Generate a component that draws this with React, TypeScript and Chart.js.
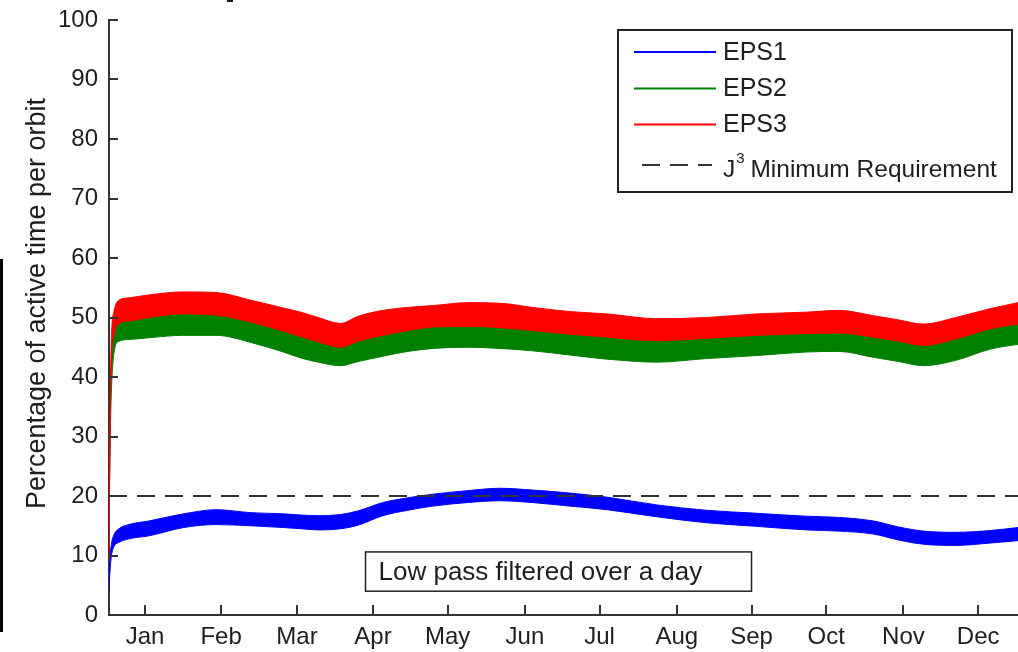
import React, { useEffect, useRef } from "react";
import { Chart, registerables } from "chart.js";

Chart.register(...registerables);

// ---- data (day of year) ----
const days = [0, 0.5, 1, 2, 4, 8, 16, 30, 43, 57, 70, 77, 84, 93, 100, 110, 120, 130, 144, 157, 170, 185, 200, 220, 240, 260, 280, 293, 307, 317, 327, 340, 354, 365];

const eps1Upper = [5, 10, 12, 13.5, 14.5, 15.2, 15.8, 17, 17.7, 17.2, 17, 16.8, 16.7, 16.9, 17.5, 18.9, 19.7, 20.3, 20.9, 21.3, 21, 20.5, 19.8, 18.5, 17.6, 17.1, 16.6, 16.4, 15.8, 14.8, 14.1, 13.9, 14.2, 14.7];
const eps1Lower = [4, 8, 10, 11.5, 12.2, 12.8, 13.3, 14.7, 15.2, 15, 14.7, 14.5, 14.3, 14.5, 15.1, 16.7, 17.6, 18.3, 18.9, 19.2, 18.9, 18.3, 17.7, 16.5, 15.5, 14.9, 14.3, 14.1, 13.6, 12.6, 11.9, 11.7, 12.1, 12.5];

const eps2Upper = [18, 33, 43.5, 47.5, 49.8, 50.2, 50.8, 51.4, 51.2, 50, 48.5, 47.6, 46.7, 45.8, 46.8, 47.8, 48.6, 49.2, 49.3, 49.1, 48.6, 48, 47.5, 46.9, 47.3, 47.8, 48.1, 48.2, 47.5, 46.8, 46.1, 47.2, 48.9, 49.7];
const eps2Lower = [16, 30, 38, 44, 46, 46.3, 46.6, 47, 47, 45.8, 44.2, 43.2, 42.5, 41.9, 42.6, 43.5, 44.3, 44.8, 45, 44.8, 44.4, 43.7, 43, 42.5, 43.1, 43.6, 44.2, 44.3, 43.3, 42.6, 41.9, 42.8, 44.7, 45.5];

const eps3Upper = [11, 36, 47, 51, 52.9, 53.3, 53.8, 54.3, 54.2, 52.9, 51.6, 50.9, 50, 49, 50.2, 51.2, 51.7, 52, 52.5, 52.4, 51.7, 51, 50.6, 49.8, 50, 50.6, 50.9, 51.2, 50.3, 49.6, 48.9, 50, 51.5, 52.5];
const eps3Lower = [9, 33, 43, 47, 49, 49.4, 50, 50.6, 50.4, 49.2, 47.7, 46.8, 45.9, 45, 46, 47, 47.8, 48.4, 48.5, 48.3, 47.8, 47.2, 46.7, 46.1, 46.5, 47, 47.3, 47.4, 46.7, 46, 45.3, 46.4, 48.1, 48.9];

const requirementLevel = 20;
const xRange = [0, 365];
const yRange = [0, 100];
const yStep = 10;

const monthTickDays = [14.5, 45, 75.5, 106, 136, 167, 197, 228, 258, 288, 319, 349];
const monthLabels = ["Jan", "Feb", "Mar", "Apr", "May", "Jun", "Jul", "Aug", "Sep", "Oct", "Nov", "Dec"];

const seriesNames = ["EPS1", "EPS2", "EPS3"];
const seriesColors = ["#0000ff", "#008000", "#ff0000"];
const requirementLabelMain = "J";
const requirementLabelSup = "3";
const requirementLabelRest = " Minimum Requirement";
const annotationText = "Low pass filtered over a day";
const annotationBox = { x0: 103, x1: 258, y0: 4.0, y1: 10.6 };
const yTitle = "Percentage of active time per orbit";

const FONT = "'Liberation Sans', Arial, Helvetica, sans-serif";
const AXIS = "#333333";
const TEXT = "#1e1e1e";

const pts = (arr: number[]) => days.map((d, i) => ({ x: d, y: arr[i] }));

const decorPlugin = {
  id: "decor",
  afterDraw(chart: any) {
    const { ctx, chartArea: ca, scales } = chart;
    const xs = scales.x;
    const ys = scales.y;
    ctx.save();

    // inward tick marks
    ctx.strokeStyle = AXIS;
    ctx.lineWidth = 2;
    ctx.beginPath();
    ys.ticks.forEach((t: any) => {
      const py = Math.round(ys.getPixelForValue(t.value));
      ctx.moveTo(ca.left, py);
      ctx.lineTo(ca.left + 9, py);
    });
    xs.ticks.forEach((t: any) => {
      const px = Math.round(xs.getPixelForValue(t.value));
      ctx.moveTo(px, ca.bottom);
      ctx.lineTo(px, ca.bottom - 10);
    });
    ctx.stroke();

    // y title
    ctx.save();
    ctx.translate(38, (ca.top + ca.bottom) / 2 - 14);
    ctx.rotate(-Math.PI / 2);
    ctx.fillStyle = TEXT;
    ctx.font = `27px ${FONT}`;
    ctx.textAlign = "center";
    ctx.textBaseline = "middle";
    ctx.fillText(yTitle, 0, 0);
    ctx.restore();

    // annotation box
    const bx0 = xs.getPixelForValue(annotationBox.x0);
    const bx1 = xs.getPixelForValue(annotationBox.x1);
    const by0 = ys.getPixelForValue(annotationBox.y1);
    const by1 = ys.getPixelForValue(annotationBox.y0);
    ctx.fillStyle = "#ffffff";
    ctx.fillRect(bx0, by0, bx1 - bx0, by1 - by0);
    ctx.strokeStyle = "#222";
    ctx.lineWidth = 1.5;
    ctx.strokeRect(bx0, by0, bx1 - bx0, by1 - by0);
    ctx.fillStyle = TEXT;
    ctx.font = `26px ${FONT}`;
    ctx.textAlign = "left";
    ctx.textBaseline = "middle";
    ctx.fillText(annotationText, bx0 + 13, (by0 + by1) / 2 + 1);

    // legend
    const lx = ca.right - 400;
    const ly = ca.top + 10;
    const lw = 394;
    const lh = 162;
    ctx.fillStyle = "#ffffff";
    ctx.fillRect(lx, ly, lw, lh);
    ctx.strokeStyle = "#222";
    ctx.lineWidth = 2;
    ctx.strokeRect(lx, ly, lw, lh);
    const rows = [22, 58.5, 94.5];
    ctx.font = `25px ${FONT}`;
    ctx.textBaseline = "middle";
    seriesNames.forEach((name, i) => {
      const ry = ly + rows[i];
      ctx.strokeStyle = seriesColors[i];
      ctx.lineWidth = 2;
      ctx.setLineDash([]);
      ctx.beginPath();
      ctx.moveTo(lx + 16, ry);
      ctx.lineTo(lx + 98, ry);
      ctx.stroke();
      ctx.fillStyle = TEXT;
      ctx.fillText(name, lx + 105, ry + 1);
    });
    const dy = ly + 135;
    ctx.strokeStyle = AXIS;
    ctx.lineWidth = 2;
    ctx.setLineDash([18, 10]);
    ctx.beginPath();
    ctx.moveTo(lx + 24, dy);
    ctx.lineTo(lx + 94, dy);
    ctx.stroke();
    ctx.setLineDash([]);
    ctx.fillStyle = TEXT;
    let tx = lx + 105;
    const ty = dy + 5;
    ctx.font = `24.5px ${FONT}`;
    ctx.fillText(requirementLabelMain, tx, ty);
    tx += ctx.measureText(requirementLabelMain).width + 1;
    ctx.font = `15px ${FONT}`;
    ctx.fillText(requirementLabelSup, tx, ty - 11);
    tx += ctx.measureText(requirementLabelSup).width - 1;
    ctx.font = `24.5px ${FONT}`;
    ctx.fillText(requirementLabelRest, tx, ty);

    ctx.restore();
  },
};

export default function App() {
  const ref = useRef<HTMLCanvasElement | null>(null);

  useEffect(() => {
    if (!ref.current) return;
    const band = (upper: number[], lower: number[], color: string) => [
      {
        data: pts(upper),
        borderColor: color,
        backgroundColor: color,
        borderWidth: 1,
        pointRadius: 0,
        fill: "+1",
        cubicInterpolationMode: "monotone",
      },
      {
        data: pts(lower),
        borderColor: color,
        backgroundColor: color,
        borderWidth: 1,
        pointRadius: 0,
        fill: false,
        cubicInterpolationMode: "monotone",
      },
    ];
    const chart = new Chart(ref.current, {
      type: "line",
      data: {
        datasets: [
          {
            data: [
              { x: xRange[0], y: requirementLevel },
              { x: xRange[1], y: requirementLevel },
            ],
            borderColor: AXIS,
            borderWidth: 2,
            borderDash: [18, 10],
            pointRadius: 0,
            fill: false,
          },
          ...band(eps3Upper, eps3Lower, seriesColors[2]),
          ...band(eps2Upper, eps2Lower, seriesColors[1]),
          ...band(eps1Upper, eps1Lower, seriesColors[0]),
        ] as any,
      },
      options: {
        animation: false,
        responsive: false,
        events: [],
        layout: { padding: { top: 20, right: 0, bottom: 0, left: 0 } },
        plugins: { legend: { display: false }, tooltip: { enabled: false } },
        scales: {
          x: {
            type: "linear",
            min: xRange[0],
            max: xRange[1],
            grid: { display: false, drawTicks: false },
            border: { display: true, color: AXIS, width: 2 },
            afterBuildTicks: (scale: any) => {
              scale.ticks = monthTickDays.map((v) => ({ value: v }));
            },
            afterFit: (scale: any) => {
              scale.height = 37;
              scale.paddingLeft = 0;
              scale.paddingRight = 0;
            },
            ticks: {
              autoSkip: false,
              maxRotation: 0,
              padding: 8,
              color: TEXT,
              font: { family: FONT, size: 24 },
              callback: (v: any) => {
                const i = monthTickDays.indexOf(Number(v));
                return i >= 0 ? monthLabels[i] : "";
              },
            },
          },
          y: {
            type: "linear",
            min: yRange[0],
            max: yRange[1],
            grid: { display: false, drawTicks: false },
            border: { display: true, color: AXIS, width: 2 },
            afterFit: (scale: any) => {
              scale.width = 109;
              scale.paddingTop = 0;
              scale.paddingBottom = 0;
            },
            ticks: {
              stepSize: yStep,
              padding: 11,
              color: TEXT,
              font: { family: FONT, size: 24 },
            },
          },
        },
      },
      plugins: [decorPlugin],
    });
    return () => chart.destroy();
  }, []);

  return (
    <div style={{ position: "fixed", left: 0, top: 0, width: 1018, height: 652, background: "#fff" }}>
      <canvas ref={ref} width={1018} height={652} style={{ display: "block" }} />
      <div style={{ position: "absolute", left: 0, top: 259, width: 3, height: 373, background: "#000" }} />
      <div style={{ position: "absolute", left: 227, top: 0, width: 6, height: 2, background: "#111" }} />
    </div>
  );
}
